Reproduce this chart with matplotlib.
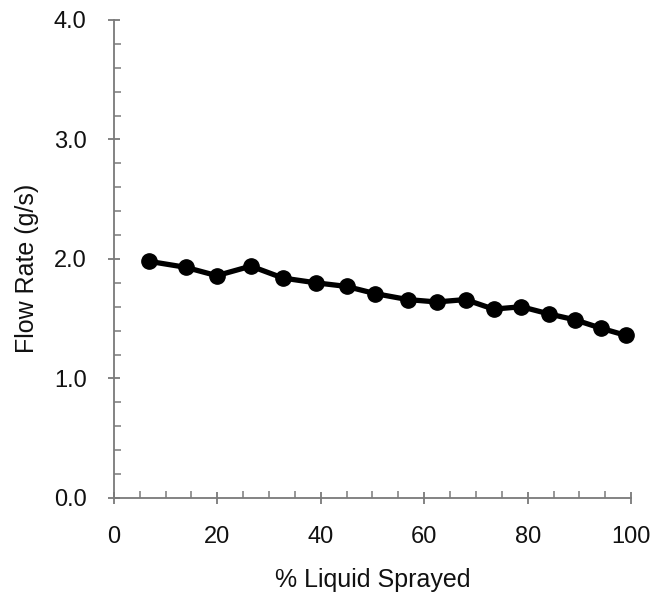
import matplotlib
matplotlib.use("Agg")
import matplotlib.pyplot as plt
from matplotlib.ticker import MultipleLocator, FormatStrFormatter

# ---------- data ----------
pct_sprayed = [6.8, 13.9, 19.9, 26.5, 32.7, 39.1, 45.0, 50.5, 56.8,
               62.4, 68.0, 73.4, 78.8, 84.1, 89.2, 94.2, 99.0]
flow_rate = [1.98, 1.93, 1.86, 1.94, 1.84, 1.80, 1.77, 1.71, 1.66,
             1.64, 1.66, 1.58, 1.60, 1.54, 1.49, 1.42, 1.36]

x_ticks = [0, 20, 40, 60, 80, 100]
y_ticks = [0.0, 1.0, 2.0, 3.0, 4.0]

plt.rcParams["font.family"] = ["Liberation Sans", "DejaVu Sans"]

fig = plt.figure(figsize=(6.54, 6.05), dpi=100)
ax = fig.add_axes([0.174, 0.177, 0.791, 0.790])

ax.plot(pct_sprayed, flow_rate, color="black", linewidth=3.8,
        marker="o", markersize=11, markerfacecolor="black",
        markeredgecolor="black", clip_on=False, zorder=3)

ax.set_xlim(0, 100)
ax.set_ylim(0, 4.0)
ax.set_xticks(x_ticks)
ax.set_yticks(y_ticks)
ax.xaxis.set_minor_locator(MultipleLocator(5))
ax.yaxis.set_minor_locator(MultipleLocator(0.2))
ax.yaxis.set_major_formatter(FormatStrFormatter("%.1f"))

axis_col = "#7a7a7a"
for side in ["top", "right"]:
    ax.spines[side].set_visible(False)
for side in ["left", "bottom"]:
    ax.spines[side].set_color(axis_col)
    ax.spines[side].set_linewidth(1.3)

ax.tick_params(which="major", direction="inout", length=9, width=1.3,
               color=axis_col, labelsize=17, labelcolor="#111111")
ax.tick_params(axis="x", which="major", pad=16)
ax.tick_params(axis="y", which="major", pad=15)
ax.tick_params(which="minor", direction="in", length=5, width=1.1,
               color=axis_col)

ax.set_xlabel("% Liquid Sprayed", fontsize=18, labelpad=14, color="#111111")
ax.set_ylabel("Flow Rate (g/s)", fontsize=18, color="#111111")
ax.yaxis.set_label_coords(-0.145, 0.48)

fig.savefig("out.png", dpi=100)
